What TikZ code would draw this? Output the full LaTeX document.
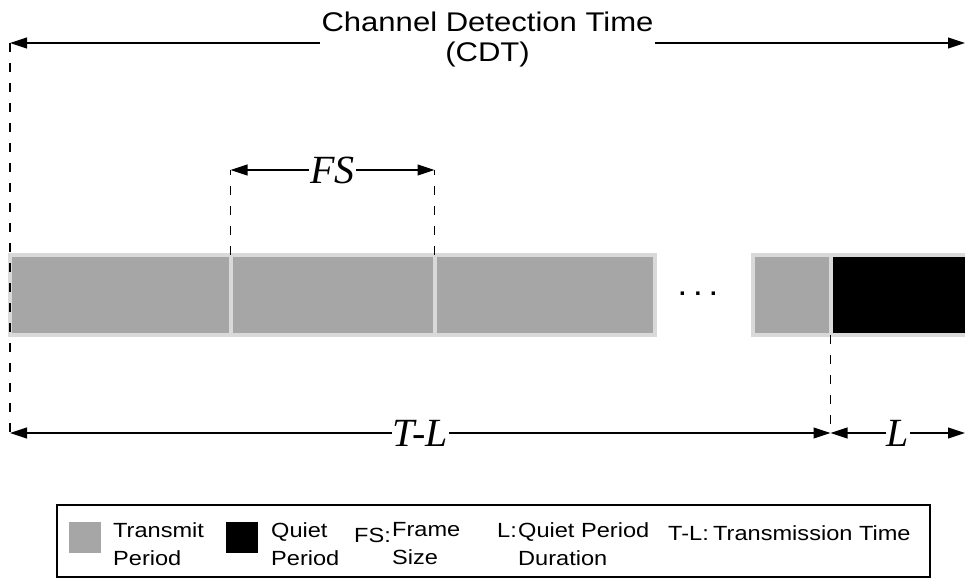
\documentclass[tikz,border=0pt]{standalone}
\usepackage{fontspec}
\newfontfamily\arialw{Liberation Sans}[FakeStretch=1.15]
\newfontfamily\arialb{Liberation Sans}
\newfontfamily\timesf{Liberation Serif}
\usetikzlibrary{arrows.meta,positioning}
\definecolor{TPgray}{HTML}{A6A6A6}
\definecolor{TPedge}{HTML}{D9D9D9}

\begin{document}
\begin{tikzpicture}[x=1pt, y=-1pt, node distance=0pt,
  slot/.style={draw=TPedge,line width=4pt,fill=TPgray,minimum height=80.5pt,inner sep=0pt,outer sep=0pt,anchor=north west},
  dim/.style={{Triangle[length=17pt,width=11pt]}-{Triangle[length=17pt,width=11pt]},line width=1.1pt},
  guide/.style={dash pattern=on 9pt off 11pt,line width=1.5pt},
  lbl/.style={font=\timesf\itshape\fontsize{40}{44}\selectfont,fill=white,inner sep=1pt},
  swatch/.style={minimum width=32pt,minimum height=31pt,inner sep=0pt},
  leg/.style={font=\arialw\fontsize{20.5}{28}\selectfont,align=left,anchor=west,inner sep=0pt}]
\useasboundingbox (0,0) rectangle (965,578);
\node[slot,minimum width=220.5pt] (tp1) at (10,254.5) {};
\node[slot,minimum width=204pt,right=of tp1] (tp2) {};
\node[slot,minimum width=220pt,right=of tp2] (tp3) {};
\node[slot,minimum width=77.5pt,right=98.5pt of tp3] (tp4) {};
\node[slot,fill=black,minimum width=140pt,right=of tp4] (qp) {};
\node[font=\arialb\bfseries\fontsize{24}{24}\selectfont,inner sep=0pt] (dots) at (698,294) {. . .};
\coordinate (cdtL) at (10,43);
\coordinate (cdtR) at (965,43);
\coordinate (fsL) at (tp2.north west |- 0,170);
\coordinate (fsR) at (tp3.north west |- 0,170);
\coordinate (tlL) at (10,433);
\coordinate (tlM) at (tp4.south east |- 0,433);
\coordinate (tlR) at (965,433);
\draw[dim] (cdtL) -- node[fill=white,align=center,inner sep=2pt,yshift=3pt,font=\arialw\fontsize{27}{30}\selectfont] (cdt) {Channel Detection Time\\(CDT)} (cdtR);
\draw[guide] (cdtL) -- (tlL);
\draw[guide] (tp2.north west) -- (fsL);
\draw[guide] (tp3.north west) -- (fsR);
\draw[guide] (tp4.south east) -- (tlM);
\draw[dim] (fsL) -- node[lbl] (fs) {FS} (fsR);
\draw[dim] (tlL) -- node[lbl] (tl) {T-L} (tlM);
\draw[dim] (tlM) -- node[lbl] (l) {L} (tlR);
\node[draw,line width=1.5pt,minimum width=873pt,minimum height=72pt,inner sep=0pt,outer sep=0pt,anchor=north west] (legend) at (57,505) {};
\node[swatch,fill=TPgray] (sw1) at (85,537.5) {};
\node[swatch,fill=black] (sw2) at (242,537.5) {};
\node[leg] (t1) at (113,544) {Transmit\\Period};
\node[leg] (t2) at (271,544) {Quiet\\Period};
\node[leg] (fsk) at (354,535) {FS:};
\node[leg] (t3) at (392,544) {Frame\\Size};
\node[leg] (lk) at (497,530) {L:};
\node[leg] (t4) at (518,544) {Quiet Period\\Duration};
\node[leg] (tlk) at (668,533) {T-L:};
\node[leg] (t5) at (713,533) {Transmission Time};
\end{tikzpicture}
\end{document}
